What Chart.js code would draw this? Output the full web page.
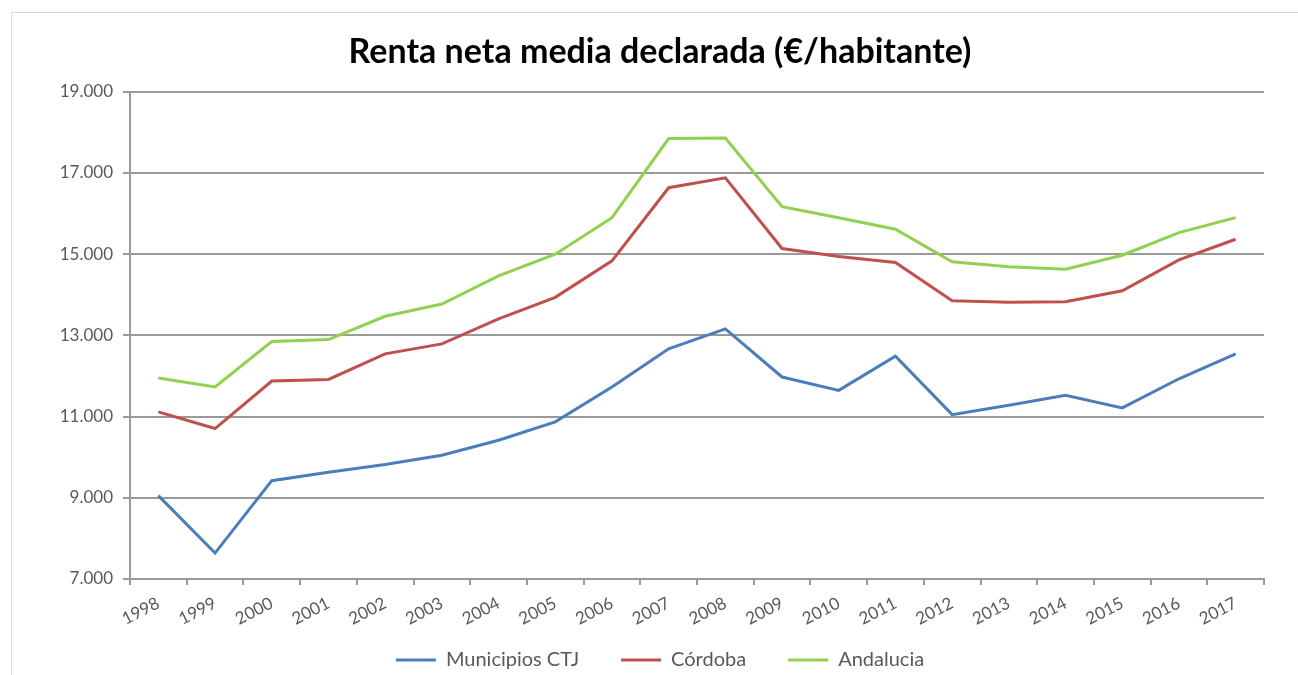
<!DOCTYPE html>
<html>
<head>
<meta charset="utf-8">
<title>Renta neta media declarada</title>
<script src="https://cdn.jsdelivr.net/npm/chart.js@4/dist/chart.umd.min.js"></script>
<style>
    body { margin: 0; background: #fff; overflow: hidden; }
    #frame { position: absolute; left: 11px; top: 12px; width: 1400px; height: 800px; border: 1px solid #d9d9d9; }
    #canvasDiv { position: absolute; left: 0; top: 0; width: 1298px; height: 680px; }
</style>
</head>
<body>
<div id="frame"></div>
<div id="canvasDiv"><canvas id="myChart"></canvas></div>
<script>
var years = ['1998','1999','2000','2001','2002','2003','2004','2005','2006','2007',
             '2008','2009','2010','2011','2012','2013','2014','2015','2016','2017'];

var municipiosCTJ = [9054, 7638, 9422, 9630, 9822, 10050, 10419, 10870, 11729, 12669,
                     13160, 11975, 11646, 12489, 11049, 11278, 11523, 11213, 11932, 12546];
var cordoba = [11115, 10706, 11876, 11915, 12546, 12791, 13405, 13937, 14836, 16637,
               16882, 15140, 14944, 14797, 13854, 13815, 13830, 14100, 14861, 15368];
var andalucia = [11950, 11729, 12848, 12897, 13471, 13773, 14468, 15000, 15900, 17847,
                 17863, 16170, 15900, 15614, 14812, 14689, 14632, 14975, 15533, 15900];

var yTicks = [7000, 9000, 11000, 13000, 15000, 17000, 19000];

var gridGray = '#9a9a9a';
var textGray = '#595959';

function formatThousands(v){
    return String(v).replace(/\B(?=(\d{3})+(?!\d))/g, '.');
}

function makeSeries(label, data, color){
    return {
        label: label,
        data: data,
        borderColor: color,
        backgroundColor: color,
        borderWidth: 3,
        pointRadius: 0,
        tension: 0
    };
}

const ctx = document.getElementById('myChart');
new Chart(ctx, {
    type: 'line',
    data: {
        labels: years,
        datasets: [
            makeSeries('Municipios CTJ', municipiosCTJ, '#4a7ebb'),
            makeSeries('Córdoba', cordoba, '#c0504d'),
            makeSeries('Andalucia', andalucia, '#92d050')
        ]
    },
    options: {
        responsive: true,
        maintainAspectRatio: false,
        animation: false,
        layout: { padding: { top: 32, left: 56, right: 34, bottom: 0 } },
        plugins: {
            title: {
                display: true,
                text: 'Renta neta media declarada (€/habitante)',
                color: '#000',
                font: { family: 'Lato', size: 34, weight: 'bold', lineHeight: 1.2 },
                padding: { top: 0, bottom: 19 }
            },
            legend: {
                position: 'bottom',
                labels: {
                    color: textGray,
                    font: { family: 'Lato', size: 20 },
                    boxWidth: 40,
                    boxHeight: 3,
                    padding: 42,
                    generateLabels: function(chart){
                        var items = Chart.defaults.plugins.legend.labels.generateLabels(chart);
                        items.forEach(function(it){ it.lineWidth = 0; });
                        return items;
                    }
                }
            },
            tooltip: { enabled: false }
        },
        scales: {
            x: {
                type: 'category',
                offset: true,
                grid: {
                    display: true,
                    drawOnChartArea: false,
                    offset: true,
                    tickLength: 6,
                    color: gridGray,
                    lineWidth: 2
                },
                border: { display: true, color: gridGray, width: 2 },
                ticks: {
                    autoSkip: false,
                    minRotation: 27,
                    maxRotation: 27,
                    padding: 8,
                    color: textGray,
                    font: { family: 'Lato', size: 17 }
                },
                afterFit: function(scale){
                    scale.height = 29;
                    // labels hang below the axis box, so don't clip them
                    scale._computeLabelArea = function(){ return undefined; };
                }
            },
            y: {
                min: yTicks[0],
                max: yTicks[yTicks.length - 1],
                afterBuildTicks: function(scale){
                    scale.ticks = yTicks.map(function(v){ return { value: v }; });
                },
                grid: {
                    color: gridGray,
                    lineWidth: 2,
                    tickLength: 7
                },
                border: { display: true, color: gridGray, width: 2 },
                ticks: {
                    padding: 10,
                    color: textGray,
                    font: { family: 'Lato', size: 17 },
                    callback: function(v){ return formatThousands(v); }
                },
                afterFit: function(scale){ scale.width = 74; }
            }
        }
    }
});
</script>
</body>
</html>
